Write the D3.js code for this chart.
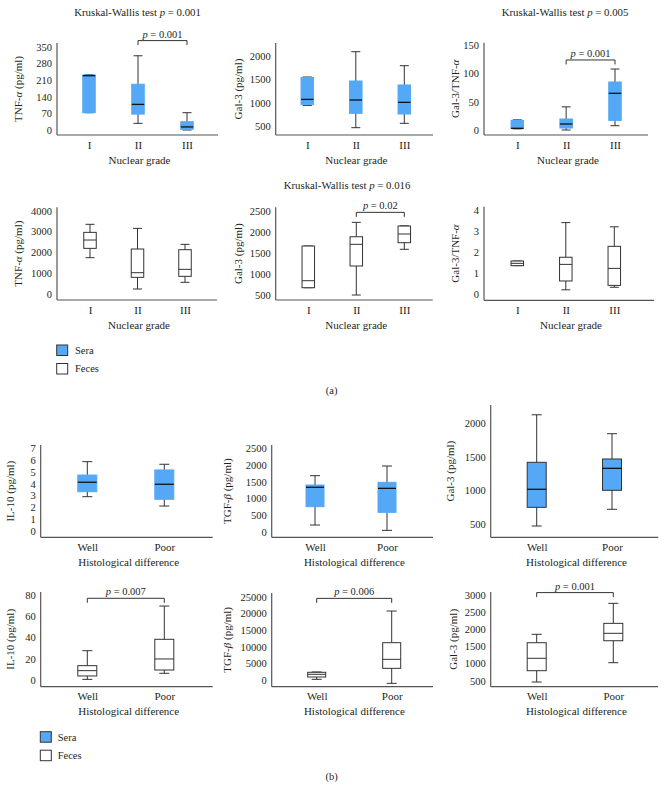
<!DOCTYPE html>
<html>
<head>
<meta charset="utf-8" />
<title>Box plots</title>
<style>
  body { margin: 0; background: #fff; }
  svg text { font-family: "Liberation Serif", "Times New Roman", serif; fill: #231f20; }
</style>
</head>
<body>
<script src="https://cdnjs.cloudflare.com/ajax/libs/d3/7.8.5/d3.min.js"></script>
<script>
// categories
const gradeCats = ["I", "II", "III"];
const diffCats = ["Well", "Poor"];

// box values: [min, q1, median, q3, max]
const tnfSera = [[73, 73, 229, 232, 233], [28, 67, 108, 193, 313], [0, 3, 13, 35, 73]];
const gal3Sera = [[940, 957, 1070, 1540, 1550], [464, 771, 1057, 1464, 2092], [557, 757, 1007, 1379, 1792]];
const ratioSera = [[2, 2.5, 3, 17, 18], [0, 3.5, 10.6, 19.5, 41], [7.6, 17, 65, 85, 108]];
const tnfFeces = [[1744, 2192, 2592, 2960, 3346], [240, 800, 1024, 2160, 3152], [560, 848, 1184, 2128, 2384]];
const gal3Feces = [[673, 673, 839, 1662, 1662], [500, 1188, 1702, 1882, 2224], [1584, 1741, 1947, 2136, 2140]];
const ratioFeces = [[1.35, 1.35, 1.46, 1.57, 1.57], [0.2, 0.62, 1.41, 1.75, 3.4], [0.32, 0.41, 1.22, 2.27, 3.2]];

const il10Sera = [[2.9, 3.32, 4.12, 4.73, 5.86], [2.11, 2.68, 3.95, 5.16, 5.64]];
const tgfSera = [[200, 750, 1332, 1400, 1680], [40, 580, 1300, 1480, 1970]];
const gal3SeraDiff = [[475, 751, 1018, 1417, 2120], [722, 1003, 1328, 1466, 1840]];
const il10Feces = [[0.6, 3.8, 8.8, 13.5, 27.6], [6.3, 9.4, 19.8, 38.3, 69.6]];
const tgfFeces = [[200, 900, 1710, 2310, 2400], [-1000, 3500, 6200, 11200, 20700]];
const gal3FecesDiff = [[462, 792, 1153, 1608, 1853], [1025, 1666, 1882, 2173, 2757]];

// tick labels
const tnfSeraTicks = [0, 70, 140, 210, 280, 350];
const gal3SeraTicks = [500, 1000, 1500, 2000];
const ratioSeraTicks = [0, 50, 100, 150];
const tnfFecesTicks = [0, 1000, 2000, 3000, 4000];
const gal3FecesTicks = [500, 1000, 1500, 2000, 2500];
const ratioFecesTicks = [0, 1, 2, 3, 4];
const il10SeraTicks = [0, 1, 2, 3, 4, 5, 6, 7];
const tgfSeraTicks = [0, 500, 1000, 1500, 2000, 2500];
const gal3SeraDiffTicks = [500, 1000, 1500, 2000];
const il10FecesTicks = [0, 20, 40, 60, 80];
const tgfFecesTicks = [0, 5000, 10000, 15000, 20000, 25000];
const gal3FecesDiffTicks = [500, 1000, 1500, 2000, 2500, 3000];

// significance brackets: [from, to, level, p]
const tnfSeraSig = ["II", "III", 377, "0.001"];
const ratioSeraSig = ["II", "III", 124, "0.001"];
const gal3FecesSig = ["II", "III", 2461, "0.02"];
const il10FecesSig = ["Well", "Poor", 76.9, "0.007"];
const tgfFecesSig = ["Well", "Poor", 24500, "0.006"];
const gal3FecesDiffSig = ["Well", "Poor", 3070, "0.001"];

// Kruskal-Wallis p values
const kwTnf = "0.001";
const kwRatio = "0.005";
const kwGal3Feces = "0.016";

const width = 667, height = 799;
const blue = "#55a8f5";

const svg = d3.select("body").append("svg")
  .attr("width", width)
  .attr("height", height);

const panels = [
  { cats: gradeCats, values: tnfSera, ticks: tnfSeraTicks, sera: true, label: ["TNF-", "α", " (pg/ml)"], xlab: "Nuclear grade",
    ax: 57, top: 43, bottom: 135, right: 218, c: [89, 187], cal: [[0, 350], [130, 47]], bw: 12.5, cw: 9, ylx: 21.5,
    sig: tnfSeraSig, kw: kwTnf, kwPos: [137.5, 15.5] },
  { cats: gradeCats, values: gal3Sera, ticks: gal3SeraTicks, sera: true, label: ["Gal-3 (pg/ml)"], xlab: "Nuclear grade",
    ax: 275.7, top: 43, bottom: 135, right: 433, c: [307.3, 404.3], cal: [[500, 2000], [126, 56]], bw: 12.5, cw: 9, ylx: 241.8 },
  { cats: gradeCats, values: ratioSera, ticks: ratioSeraTicks, sera: true, label: ["Gal-3/TNF-", "α"], xlab: "Nuclear grade",
    ax: 484, top: 42.7, bottom: 135, right: 648, c: [517.3, 615], cal: [[0, 150], [130, 45.3]], bw: 12.5, cw: 9, ylx: 458.5,
    sig: ratioSeraSig, kw: kwRatio, kwPos: [565, 15.5] },
  { cats: gradeCats, values: tnfFeces, ticks: tnfFecesTicks, sera: false, label: ["TNF-", "α", " (pg/ml)"], xlab: "Nuclear grade",
    ax: 57, top: 207.3, bottom: 300, right: 217, c: [90, 185], cal: [[0, 4000], [294, 210.7]], bw: 12.5, cw: 9, ylx: 21.5 },
  { cats: gradeCats, values: gal3Feces, ticks: gal3FecesTicks, sera: false, label: ["Gal-3 (pg/ml)"], xlab: "Nuclear grade",
    ax: 275.7, top: 207.3, bottom: 300, right: 432.7, c: [308.3, 404.3], cal: [[500, 2500], [295, 210.7]], bw: 12.5, cw: 9, ylx: 241.8,
    sig: gal3FecesSig, kw: kwGal3Feces, kwPos: [347, 188.5] },
  { cats: gradeCats, values: ratioFeces, ticks: ratioFecesTicks, sera: false, label: ["Gal-3/TNF-", "α"], xlab: "Nuclear grade",
    ax: 484, top: 206.7, bottom: 300.3, right: 654, c: [517.3, 614.3], cal: [[0, 4], [294, 210]], bw: 12.5, cw: 9, ylx: 458.5 },

  { cats: diffCats, values: il10Sera, ticks: il10SeraTicks, sera: true, label: ["IL-10 (pg/ml)"], xlab: "Histological difference",
    ax: 40.7, top: 445, bottom: 537.3, right: 212.7, c: [87.3, 164.3], cal: [[0, 6], [531, 460]], bw: 19, cw: 10, ylx: 14 },
  { cats: diffCats, values: tgfSera, ticks: tgfSeraTicks, sera: true, label: ["TGF-", "β", " (pg/ml)"], xlab: "Histological difference",
    ax: 271.7, top: 445, bottom: 537.3, right: 433, c: [315, 387], cal: [[0, 2000], [531.7, 465]], bw: 18, cw: 10, ylx: 230.5 },
  { cats: diffCats, values: gal3SeraDiff, ticks: gal3SeraDiffTicks, sera: true, outline: true, label: ["Gal-3 (pg/ml)"], xlab: "Histological difference",
    ax: 490.7, top: 405, bottom: 537.3, right: 658.3, c: [536.7, 612], cal: [[500, 1500], [524.3, 456.7]], bw: 19, cw: 10, ylx: 453.5 },
  { cats: diffCats, values: il10Feces, ticks: il10FecesTicks, sera: false, label: ["IL-10 (pg/ml)"], xlab: "Histological difference",
    ax: 40.7, top: 592, bottom: 686.7, right: 212.7, c: [87.3, 164.3], cal: [[0, 80], [680, 595]], bw: 19, cw: 10, ylx: 14,
    sig: il10FecesSig },
  { cats: diffCats, values: tgfFeces, ticks: tgfFecesTicks, sera: false, label: ["TGF-", "β", " (pg/ml)"], xlab: "Histological difference",
    ax: 271.7, top: 593, bottom: 686.7, right: 433, c: [316.7, 391.7], cal: [[0, 25000], [680, 596.7]], bw: 18, cw: 10, ylx: 230.5,
    sig: tgfFecesSig },
  { cats: diffCats, values: gal3FecesDiff, ticks: gal3FecesDiffTicks, sera: false, label: ["Gal-3 (pg/ml)"], xlab: "Histological difference",
    ax: 490.7, top: 592, bottom: 686.7, right: 658, c: [536.7, 613.3], cal: [[500, 3000], [680.7, 595]], bw: 19, cw: 10, ylx: 457,
    sig: gal3FecesDiffSig }
];

function pText(sel, pre, val) {
  if (pre) sel.append("tspan").text(pre);
  sel.append("tspan").attr("font-style", "italic").text("p");
  sel.append("tspan").text(" = " + val);
}

panels.forEach(p => {
  const g = svg.append("g");
  const x = d3.scalePoint().domain(p.cats).range(p.c);
  const y = d3.scaleLinear().domain(p.cal[0]).range(p.cal[1]);

  // y ticks
  g.append("g")
    .attr("transform", `translate(${p.ax},0)`)
    .call(d3.axisLeft(y).tickValues(p.ticks).tickSize(0).tickPadding(5).tickFormat(d3.format("d")))
    .call(a => a.select(".domain").remove())
    .call(a => a.selectAll("text").attr("font-size", 10.5).attr("font-family", null));

  // x ticks
  g.append("g")
    .attr("transform", `translate(0,${p.bottom})`)
    .call(d3.axisBottom(x).tickSize(0).tickPadding(6))
    .call(a => a.select(".domain").remove())
    .call(a => a.selectAll("text").attr("font-size", 11).attr("font-family", null));

  // axis lines
  g.append("line").attr("x1", p.ax).attr("x2", p.ax).attr("y1", p.top).attr("y2", p.bottom)
    .attr("stroke", "#555").attr("stroke-width", 1.2);
  g.append("line").attr("x1", p.ax).attr("x2", p.right).attr("y1", p.bottom).attr("y2", p.bottom)
    .attr("stroke", "#555").attr("stroke-width", 1.2);

  // axis titles
  g.append("text")
    .attr("x", (p.ax + p.right) / 2 + 2)
    .attr("y", p.bottom + 28.5)
    .attr("text-anchor", "middle")
    .attr("font-size", 11)
    .text(p.xlab);

  const yl = g.append("text")
    .attr("transform", `translate(${p.ylx},${(p.top + p.bottom) / 2}) rotate(-90)`)
    .attr("text-anchor", "middle")
    .attr("font-size", 11);
  p.label.forEach((s, i) => {
    yl.append("tspan").attr("font-style", i === 1 ? "italic" : null).text(s);
  });

  // boxes
  const boxes = g.selectAll("g.box")
    .data(p.values.map((v, i) => ({ cat: p.cats[i], v })))
    .join("g").attr("class", "box");

  boxes.append("line")
    .attr("x1", d => x(d.cat)).attr("x2", d => x(d.cat))
    .attr("y1", d => y(d.v[4])).attr("y2", d => y(d.v[0]))
    .attr("stroke", "#333").attr("stroke-width", 1);

  boxes.selectAll("line.cap")
    .data(d => [d.v[0], d.v[4]].map(v => ({ cat: d.cat, v })))
    .join("line").attr("class", "cap")
    .attr("x1", d => x(d.cat) - p.cw / 2).attr("x2", d => x(d.cat) + p.cw / 2)
    .attr("y1", d => y(d.v)).attr("y2", d => y(d.v))
    .attr("stroke", "#333").attr("stroke-width", 1);

  boxes.append("rect")
    .attr("x", d => x(d.cat) - p.bw / 2)
    .attr("width", p.bw)
    .attr("y", d => y(d.v[3]))
    .attr("height", d => Math.max(1, y(d.v[1]) - y(d.v[3])))
    .attr("fill", p.sera ? blue : "#fff")
    .attr("stroke", p.sera ? (p.outline ? "#333" : blue) : "#333")
    .attr("stroke-width", 1);

  boxes.append("line")
    .attr("x1", d => x(d.cat) - p.bw / 2).attr("x2", d => x(d.cat) + p.bw / 2)
    .attr("y1", d => y(d.v[2])).attr("y2", d => y(d.v[2]))
    .attr("stroke", p.sera ? "#111" : "#333").attr("stroke-width", p.sera ? 1.3 : 1);

  // significance bracket
  if (p.sig) {
    const [a, b, lev, pv] = p.sig;
    const ly = y(lev);
    g.append("path")
      .attr("d", `M${x(a)},${ly + 4.5}V${ly}H${x(b)}V${ly + 4.5}`)
      .attr("fill", "none").attr("stroke", "#333").attr("stroke-width", 1);
    const t = g.append("text")
      .attr("x", (x(a) + x(b)) / 2)
      .attr("y", ly - 3)
      .attr("text-anchor", "middle")
      .attr("font-size", 10.5);
    pText(t, null, pv);
  }

  // Kruskal-Wallis title
  if (p.kw) {
    const t = g.append("text")
      .attr("x", p.kwPos[0]).attr("y", p.kwPos[1])
      .attr("text-anchor", "middle")
      .attr("font-size", 10.8);
    pText(t, "Kruskal-Wallis test ", p.kw);
  }
});

// legends
const legendKeys = ["Sera", "Feces"];
[[56.7, 345, 75], [40.3, 731.7, 57.7]].forEach(([lx, ly, tx]) => {
  const lg = svg.append("g");
  legendKeys.forEach((k, i) => {
    const yy = ly + i * 18.5;
    lg.append("rect").attr("x", lx).attr("y", yy).attr("width", 11).attr("height", 10.5)
      .attr("fill", i === 0 ? blue : "#fff").attr("stroke", "#333").attr("stroke-width", 1);
    lg.append("text").attr("x", tx).attr("y", yy + 8.8).attr("font-size", 10.5).text(k);
  });
});

// part labels
svg.append("text").attr("x", 331.7).attr("y", 393.5).attr("text-anchor", "middle").attr("font-size", 10.5).text("(a)");
svg.append("text").attr("x", 331.7).attr("y", 780).attr("text-anchor", "middle").attr("font-size", 10.5).text("(b)");
</script>
</body>
</html>
